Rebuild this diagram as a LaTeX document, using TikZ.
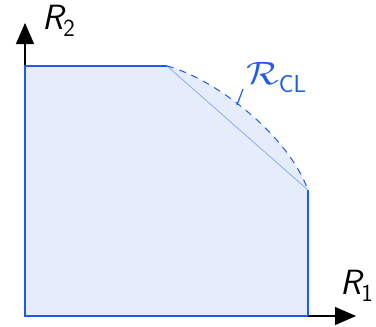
\documentclass[tikz,border=0pt]{standalone}
\usetikzlibrary{arrows.meta}
\definecolor{edgeblue}{RGB}{30,90,235}
\definecolor{fillblue}{RGB}{229,236,252}
\definecolor{chordblue}{RGB}{130,165,240}
\begin{document}
\begin{tikzpicture}[x=1pt,y=-1pt,
  axis/.style={line width=1.3pt,-{Triangle[width=18pt,length=21pt]}},
  edge/.style={edgeblue,line width=1.8pt,line join=miter},
  lab/.style={font=\fontsize{35}{38}\selectfont\sffamily,inner sep=0pt,anchor=base west}]
\useasboundingbox (0,0) rectangle (376,327);
\coordinate (O) at (25,316);
\coordinate (Ytip) at (25,23);
\coordinate (Xtip) at (356,316);
\coordinate (A) at (25,66);
\coordinate (B) at (167,66);
\coordinate (C) at (308,190);
\coordinate (D) at (308,316);
\coordinate (T1) at (243,89);
\coordinate (T2) at (237,105);
\fill[fillblue] (O) -- (A) -- (B) .. controls (213,78) and (287,133) .. (C) -- (D) -- cycle;
\draw[axis] (O) -- (Ytip);
\draw[axis] (O) -- (Xtip);
\draw[edge] (D) -- (O) -- (A) -- (B);
\draw[edge] (C) -- (D);
\draw[chordblue,line width=0.7pt] (B) -- (C);
\draw[edgeblue,line width=1pt,dash pattern=on 7pt off 6pt] (B) .. controls (213,78) and (287,133) .. (C);
\draw[edgeblue,line width=1.2pt] (T1) -- (T2);
\node[lab] (r2) at (42,29) {\itshape R\textsubscript{\upshape 2}};
\node[lab] (r1) at (340,294) {\itshape R\textsubscript{\upshape 1}};
\node[lab,text=edgeblue] (rcl) at (246,84) {\scalebox{1.55}[1.3]{$\mathcal{R}$}\textsubscript{CL}};
\end{tikzpicture}
\end{document}
